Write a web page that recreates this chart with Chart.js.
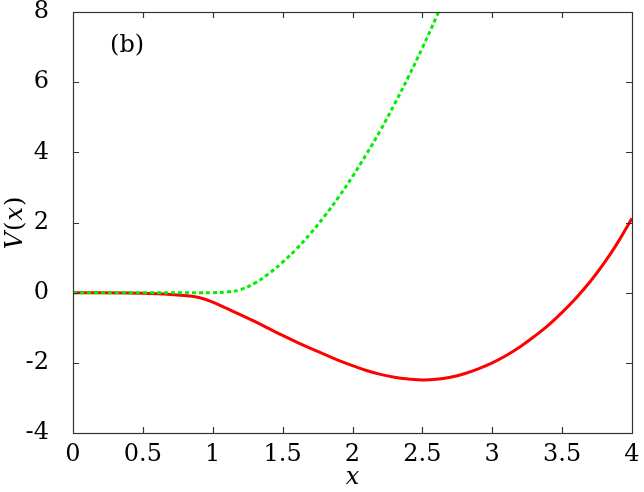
<!DOCTYPE html>
<html>
<head>
<meta charset="utf-8">
<script src="https://cdn.jsdelivr.net/npm/chart.js@4.4.1/dist/chart.umd.min.js"></script>
<style>
html,body{margin:0;padding:0;background:#fff;}
#wrap{width:644px;height:492px;}
</style>
</head>
<body>
<div id="wrap"><canvas id="c" width="644" height="492"></canvas></div>
<script>
// Data
const xRed   = [0, 0.4, 0.5, 0.6, 0.7, 0.8, 0.9, 1.0, 1.1, 1.2, 1.3, 1.4, 1.5, 1.6, 1.7, 1.8, 1.9, 2.0, 2.1, 2.2, 2.3, 2.4, 2.5, 2.6, 2.7, 2.8, 2.9, 3.0, 3.1, 3.2, 3.3, 3.4, 3.5, 3.6, 3.7, 3.8, 3.9, 4.0];
const yRed   = [0, -0.01, -0.02, -0.03, -0.05, -0.08, -0.14, -0.27, -0.45, -0.63, -0.82, -1.02, -1.22, -1.41, -1.59, -1.76, -1.93, -2.08, -2.22, -2.33, -2.41, -2.46, -2.49, -2.47, -2.41, -2.31, -2.17, -2.00, -1.79, -1.54, -1.25, -0.93, -0.56, -0.15, 0.31, 0.84, 1.44, 2.12];
const xGreen = [0, 0.5, 0.9, 1.0, 1.1, 1.2, 1.3, 1.4, 1.5, 1.6, 1.7, 1.8, 1.9, 2.0, 2.1, 2.2, 2.3, 2.4, 2.5, 2.6, 2.7];
const yGreen = [0, 0, 0, 0, 0.02, 0.09, 0.27, 0.54, 0.87, 1.25, 1.69, 2.18, 2.72, 3.31, 3.95, 4.63, 5.37, 6.15, 6.98, 7.86, 8.80];
const xTicks = [0, 0.5, 1, 1.5, 2, 2.5, 3, 3.5, 4];
const yTicks = [-4, -2, 0, 2, 4, 6, 8];
const panelLabel = "(b)";
const xTitle = "x";
const yTitle = "V(x)";

const FONT = "'DejaVu Serif', 'Liberation Serif', serif";
const FS = 24;

const toPts = (xs, ys) => xs.map((x, i) => ({x: x, y: ys[i]}));

const framePlugin = {
  id: 'frame',
  afterDraw(chart) {
    const {ctx, chartArea: a, scales} = chart;
    const xs = scales.x, ys = scales.y;
    ctx.save();
    ctx.strokeStyle = '#333';
    ctx.lineWidth = 1.2;
    const L = 6;
    ctx.beginPath();
    xTicks.forEach(v => {
      const px = Math.round(xs.getPixelForValue(v)) + 0.5;
      if (v !== xTicks[0] && v !== xTicks[xTicks.length-1]) {
        ctx.moveTo(px, a.bottom); ctx.lineTo(px, a.bottom - L);
        ctx.moveTo(px, a.top); ctx.lineTo(px, a.top + L);
      }
    });
    yTicks.forEach(v => {
      const py = Math.round(ys.getPixelForValue(v)) + 0.5;
      if (v !== yTicks[0] && v !== yTicks[yTicks.length-1]) {
        ctx.moveTo(a.left, py); ctx.lineTo(a.left + L, py);
        ctx.moveTo(a.right, py); ctx.lineTo(a.right - L, py);
      }
    });
    ctx.stroke();
    ctx.strokeRect(Math.round(a.left)+0.5, Math.round(a.top)+0.5, Math.round(a.right - a.left), Math.round(a.bottom - a.top));
    // panel label
    ctx.fillStyle = '#000';
    ctx.font = FS + 'px ' + FONT;
    ctx.textAlign = 'left';
    ctx.textBaseline = 'middle';
    ctx.fillText(panelLabel, xs.getPixelForValue(0.265), ys.getPixelForValue(7.03));
    // y title: italic V and x
    ctx.save();
    ctx.translate(16, (a.top + a.bottom) / 2);
    ctx.rotate(-Math.PI / 2);
    const parts = [['V', 'italic '], ['(', ''], ['x', 'italic '], [')', '']];
    let total = 0;
    parts.forEach(p => { ctx.font = p[1] + FS + 'px ' + FONT; total += ctx.measureText(p[0]).width + 1; });
    let cx = -total / 2;
    parts.forEach(p => { ctx.font = p[1] + FS + 'px ' + FONT; ctx.fillText(p[0], cx, 0); cx += ctx.measureText(p[0]).width + 1; });
    ctx.restore();
    ctx.restore();
  }
};

const noPad = s => { s.paddingTop = 0; s.paddingBottom = 0; s.paddingLeft = 0; s.paddingRight = 0; };

new Chart(document.getElementById('c'), {
  type: 'line',
  data: {
    datasets: [
      {
        data: toPts(xGreen, yGreen),
        borderColor: '#00ee00',
        borderWidth: 3,
        borderDash: [4, 3],
        pointRadius: 0,
        tension: 0.4,
        fill: false
      },
      {
        data: toPts(xRed, yRed),
        borderColor: '#ff0000',
        borderWidth: 3,
        pointRadius: 0,
        tension: 0.4,
        fill: false
      }
    ]
  },
  options: {
    responsive: false,
    animation: false,
    events: [],
    layout: {padding: {left: 0, right: 12, top: 12, bottom: 0}},
    plugins: {legend: {display: false}, tooltip: {enabled: false}},
    scales: {
      x: {
        type: 'linear', min: 0, max: 4,
        afterBuildTicks: s => { s.ticks = xTicks.map(v => ({value: v})); },
        afterFit: s => { s.height = 59; noPad(s); },
        grid: {display: false, drawTicks: false},
        border: {display: false},
        ticks: {color: '#000', padding: 7, maxRotation: 0, autoSkip: false, font: {family: FONT, size: FS}, callback: v => String(v)},
        title: {display: true, text: xTitle, color: '#000', padding: {top: -5, bottom: 0}, font: {family: FONT, size: FS, style: 'italic'}}
      },
      y: {
        type: 'linear', min: -4, max: 8,
        afterBuildTicks: s => { s.ticks = yTicks.map(v => ({value: v})); },
        afterFit: s => { s.width = 73; noPad(s); },
        grid: {display: false, drawTicks: false},
        border: {display: false},
        ticks: {color: '#000', padding: 24, autoSkip: false, font: {family: FONT, size: FS}, callback: v => String(v)},
        title: {display: false}
      }
    }
  },
  plugins: [framePlugin]
});
</script>
</body>
</html>
